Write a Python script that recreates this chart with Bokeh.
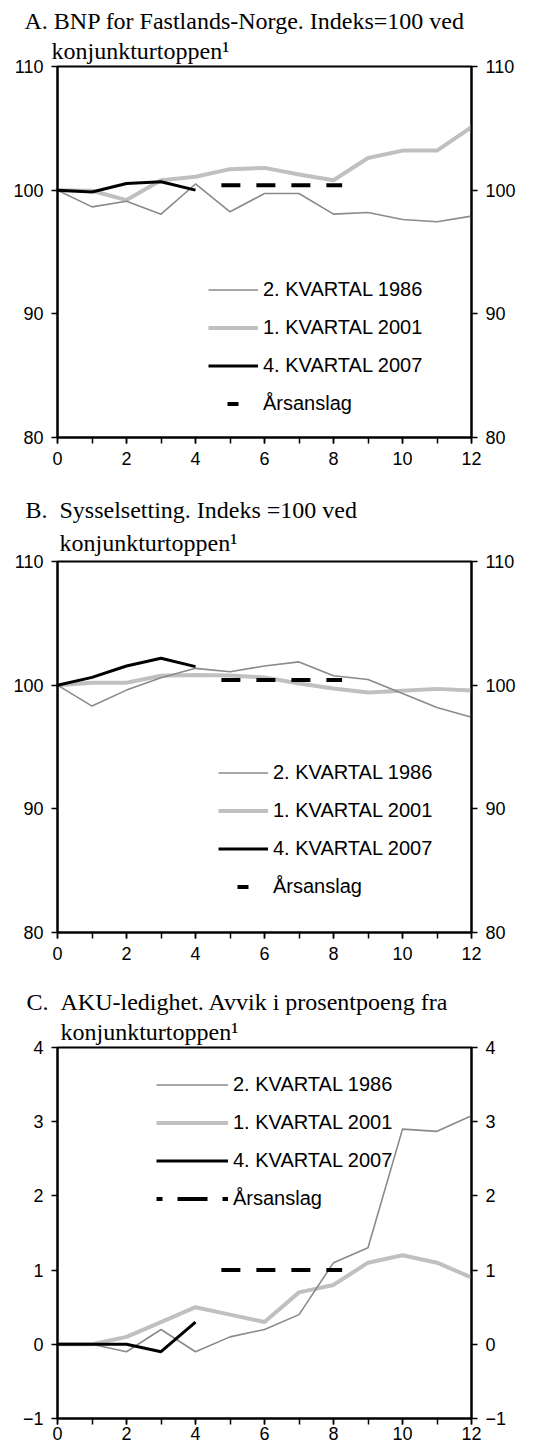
from bokeh.plotting import figure
from bokeh.models import Range1d, LinearAxis, FixedTicker, Legend, LegendItem, Title
from bokeh.layouts import column
from bokeh.embed import file_html
from bokeh.resources import INLINE

# ---------------- data ----------------
quarters = list(range(13))
quarters_2007 = list(range(5))
x_ticks = [0, 2, 4, 6, 8, 10, 12]
x_minor = list(range(13))
anslag_x = [4.75, 8.25]
legend_proxy_x = [-100, -99]   # off-screen, only used for the legend symbol

bnp_1986 = [100, 98.65, 99.1, 98.06, 100.5, 98.25, 99.73, 99.73, 98.06, 98.2, 97.63, 97.44, 97.9]
bnp_2001 = [100, 99.95, 99.2, 100.8, 101.08, 101.7, 101.8, 101.27, 100.8, 102.6, 103.2, 103.2, 105.1]
bnp_2007 = [100, 99.85, 100.54, 100.68, 100.0]
bnp_anslag = [100.4, 100.4]

sys_1986 = [100, 98.31, 99.6, 100.6, 101.36, 101.09, 101.55, 101.88, 100.76, 100.46, 99.32, 98.2, 97.41]
sys_2001 = [100, 100.19, 100.19, 100.76, 100.82, 100.79, 100.63, 100.14, 99.73, 99.4, 99.54, 99.7, 99.56]
sys_2007 = [100, 100.63, 101.55, 102.18, 101.5]
sys_anslag = [100.41, 100.41]

aku_1986 = [0, 0, -0.1, 0.2, -0.1, 0.1, 0.2, 0.4, 1.1, 1.3, 2.9, 2.87, 3.08]
aku_2001 = [0, 0, 0.1, 0.3, 0.5, 0.4, 0.3, 0.7, 0.8, 1.1, 1.2, 1.1, 0.9]
aku_2007 = [0, 0, 0, -0.1, 0.3]
aku_anslag = [1.0, 1.0]

index_ticks = [80, 90, 100, 110]
aku_ticks = [-1, 0, 1, 2, 3, 4]

labels = ["2. KVARTAL 1986", "1. KVARTAL 2001", "4. KVARTAL 2007", "Årsanslag"]
titles_A = ["A. BNP for Fastlands-Norge. Indeks=100 ved", "konjunkturtoppen¹"]
titles_B = ["B.\u00a0\u00a0Sysselsetting. Indeks =100 ved", "konjunkturtoppen¹"]
titles_C = ["C.\u00a0\u00a0AKU-ledighet. Avvik i prosentpoeng fra", "konjunkturtoppen¹"]

SANS = "Liberation Sans"
SERIF = "Liberation Serif"
C86 = "#8a8a8a"
C01 = "#c0c0c0"
C07 = "#000000"


def make_panel(height, b_left, b_right, b_top, b_bottom, yr, yticks,
               s86, s01, s07, sans, titles, title_offsets, title_standoff,
               legend_loc, glyph_w, leg_dash, x_standoff):
    p = figure(width=525, height=height, output_backend="svg", toolbar_location=None,
               x_range=Range1d(0, 12), y_range=Range1d(*yr), title=None,
               min_border_left=b_left, min_border_right=b_right,
               min_border_top=b_top, min_border_bottom=b_bottom,
               background_fill_color="white", border_fill_color="white")
    p.xgrid.visible = False
    p.ygrid.visible = False
    p.outline_line_color = "black"
    p.outline_line_width = 2

    xa = p.xaxis[0]
    xa.ticker = FixedTicker(ticks=x_ticks, minor_ticks=x_minor)
    ya = p.yaxis[0]
    ya.ticker = FixedTicker(ticks=yticks)
    ra = LinearAxis(ticker=FixedTicker(ticks=yticks))
    p.add_layout(ra, "right")
    for ax in (xa, ya, ra):
        ax.axis_line_color = "black"
        ax.axis_line_width = 2
        ax.major_tick_line_color = "black"
        ax.major_tick_line_width = 1.5
        ax.major_tick_out = 6
        ax.major_tick_in = 0
        ax.major_label_text_font = SANS
        ax.major_label_text_font_size = "18px"
        ax.major_label_text_color = "black"
        ax.major_label_standoff = 8
    xa.major_label_standoff = x_standoff
    for ax in (ya, ra):
        ax.minor_tick_line_color = None
    xa.minor_tick_line_color = "black"
    xa.minor_tick_line_width = 1.5
    xa.minor_tick_out = 6
    xa.minor_tick_in = 0

    r01 = p.line(quarters, s01, line_color=C01, line_width=4, line_join="round")
    r86 = p.line(quarters, s86, line_color=C86, line_width=1.6, line_join="round")
    r07 = p.line(quarters_2007, s07, line_color=C07, line_width=3, line_join="round")
    p.line(anslag_x, sans, line_color="black", line_width=4, line_dash="19 16")
    rleg = p.line(legend_proxy_x, sans, line_color="black", line_width=4,
                  line_dash=leg_dash)

    legend = Legend(items=[LegendItem(label=labels[0], renderers=[r86]),
                           LegendItem(label=labels[1], renderers=[r01]),
                           LegendItem(label=labels[2], renderers=[r07]),
                           LegendItem(label=labels[3], renderers=[rleg])],
                    location=legend_loc, glyph_width=glyph_w, glyph_height=37,
                    label_height=37, spacing=1, padding=0, margin=0,
                    label_standoff=5, border_line_color=None,
                    background_fill_alpha=0,
                    label_text_font=SANS, label_text_font_size="20px",
                    label_text_color="black")
    p.add_layout(legend)

    # second line first (closest to frame), then first line
    for txt, off, so in [(titles[1], title_offsets[1], title_standoff),
                         (titles[0], title_offsets[0], 0)]:
        p.add_layout(Title(text=txt, align="left", offset=off, standoff=so,
                           text_font=SERIF, text_font_size="24px",
                           text_font_style="normal", text_color="black"), "above")
    return p


pA = make_panel(473, 57, 52, 66, 36, (80, 110), index_ticks,
                bnp_1986, bnp_2001, bnp_2007, bnp_anslag,
                titles_A, (-33, -6), 5, (151, 15), 50, "0 19 11 20", 8)
pB = make_panel(495, 56, 52, 88, 36, (80, 110), index_ticks,
                sys_1986, sys_2001, sys_2007, sys_anslag,
                titles_B, (-32, 2), 11, (161, 27), 50, "0 19 11 20", 8)
pC = make_panel(478, 52, 54, 79, 28, (-1, 4), aku_ticks,
                aku_1986, aku_2001, aku_2007, aku_anslag,
                titles_C, (-31, 3), 5, (99, 201), 72, "6 15 30 15", 2)

layout = column(pA, pB, pC)

open("out.html", "w").write(file_html(layout, INLINE))
